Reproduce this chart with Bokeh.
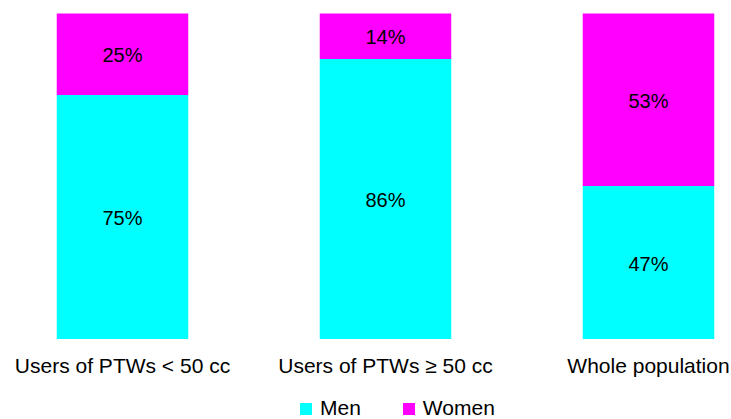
from bokeh.plotting import figure
from bokeh.models import ColumnDataSource, Range1d, Legend, LegendItem
from bokeh.core.properties import value
from bokeh.embed import file_html
from bokeh.resources import INLINE

categories = ["Users of PTWs < 50 cc", "Users of PTWs \u2265 50 cc", "Whole population"]
men = [75, 86, 47]
women = [25, 14, 53]
series_names = ["Men", "Women"]
colors = ["#00FFFF", "#FF00FF"]

FONT = "Liberation Sans"

W, H = 731, 419
spacing_px = 263.0
left_px = 122.0
x0 = -left_px / spacing_px
x1 = x0 + W / spacing_px
top_px, bottom_px = 13.0, 338.5
px_per_unit = (bottom_px - top_px) / 100.0
y1 = 100 + top_px / px_per_unit
y0 = -(H - bottom_px) / px_per_unit

p = figure(width=W, height=H, output_backend="svg", toolbar_location=None,
           x_range=Range1d(x0, x1), y_range=Range1d(y0, y1),
           min_border=0, min_border_left=0, min_border_right=0,
           min_border_top=0, min_border_bottom=0)
p.axis.visible = False
p.grid.visible = False
p.outline_line_color = None
p.background_fill_color = "white"
p.border_fill_color = "white"

xs = list(range(len(categories)))
src = ColumnDataSource(dict(
    x=xs,
    men_top=men,
    women_top=[m + w for m, w in zip(men, women)],
    men_mid=[m / 2 for m in men],
    women_mid=[m + w / 2 for m, w in zip(men, women)],
    men_lbl=[f"{m}%" for m in men],
    women_lbl=[f"{w}%" for w in women],
    cat=categories,
    cat_y=[-26.0 / px_per_unit] * len(categories),
))

r_men = p.vbar(x="x", width=0.5, bottom=0, top="men_top", source=src,
               fill_color=colors[0], line_color=None)
r_women = p.vbar(x="x", width=0.5, bottom="men_top", top="women_top", source=src,
                 fill_color=colors[1], line_color=None)

for ycol, tcol in (("men_mid", "men_lbl"), ("women_mid", "women_lbl")):
    p.text(x="x", y=ycol, text=tcol, source=src, text_align="center",
           text_baseline="middle", text_font=value(FONT), y_offset=1,
           text_font_size="20px", text_color="#000000")

p.text(x="x", y="cat_y", text="cat", source=src, text_align="center",
       text_baseline="middle", text_font=value(FONT),
       text_font_size="21px", text_color="#000000")

legend = Legend(items=[LegendItem(label=series_names[0], renderers=[r_men]),
                       LegendItem(label=series_names[1], renderers=[r_women])],
                orientation="horizontal", location=(298, -1),
                padding=0, margin=0, spacing=40,
                glyph_width=15, glyph_height=15, label_standoff=7,
                label_text_font=FONT, label_text_font_size="21px",
                label_text_color="#000000",
                border_line_color=None, background_fill_alpha=0)
p.add_layout(legend, "center")

open("out.html", "w").write(file_html(p, INLINE))
